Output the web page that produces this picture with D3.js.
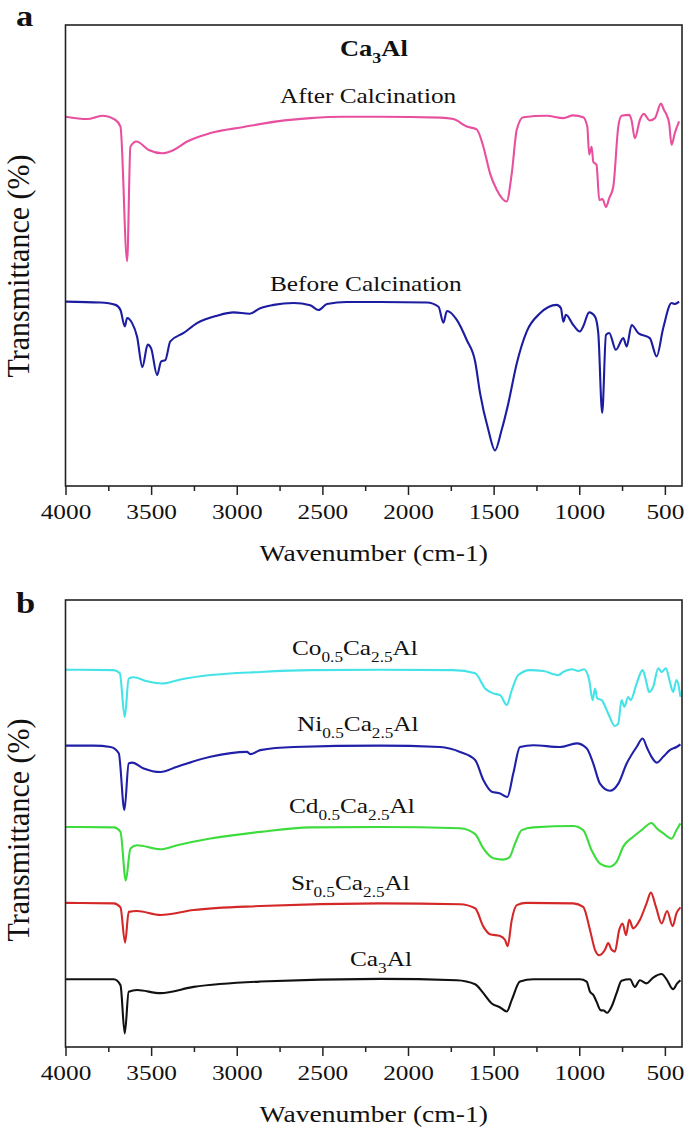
<!DOCTYPE html>
<html>
<head>
<meta charset="utf-8">
<script src="https://cdn.jsdelivr.net/npm/d3@7"></script>
<style>
  html, body { margin: 0; padding: 0; background: #fff; }
  svg { display: block; }
  text { font-family: "Liberation Serif", "Times New Roman", serif; fill: #111; }
</style>
</head>
<body>
<svg id="chart" width="685" height="1130"></svg>
<script>
// ---------------- DATA ----------------
// wavenumber ticks
const majorTicks = [4000, 3500, 3000, 2500, 2000, 1500, 1000, 500];
const minorTicks = [3750, 3250, 2750, 2250, 1750, 1250, 750];

// Panel a: Ca3Al before / after calcination  [wavenumber (cm-1), transmittance (a.u.)]
const afterCalcination = [
  [4000,80.8],[3873,80.3],[3786,81.0],[3708,80.1],[3679,78.7],[3640,49.9],[3621,74.4],[3586,75.5],
  [3514,73.7],[3436,73.0],[3368,73.7],[3290,75.5],[3154,77.3],[2960,78.6],[2765,79.8],[2571,80.5],
  [2378,80.8],[2163,80.8],[1812,80.6],[1735,80.3],[1657,78.7],[1599,78.1],[1560,74.4],[1521,68.7],
  [1482,65.2],[1424,62.7],[1394,68.7],[1365,78.0],[1327,80.7],[1190,81.0],[1093,80.5],[1035,81.1],
  [977,80.7],[953,78.7],[942,72.7],[928,74.4],[918,71.2],[899,70.5],[883,63.0],[864,63.2],[844,61.5],
  [825,63.4],[801,65.9],[772,78.7],[753,81.0],[708,81.2],[695,80.1],[675,76.2],[646,80.1],[623,81.4],
  [588,80.0],[558,80.5],[523,83.6],[506,82.3],[490,81.2],[475,79.4],[461,74.8],[442,77.3],[417,79.8]
];
const beforeCalcination = [
  [4000,41.3],[3796,41.1],[3708,40.6],[3679,39.5],[3654,36.0],[3640,37.8],[3611,36.7],[3582,33.8],
  [3551,27.3],[3520,32.1],[3500,31.3],[3465,25.6],[3442,28.5],[3417,28.8],[3388,32.8],[3310,34.6],
  [3232,36.7],[3115,38.3],[3018,39.0],[2925,38.7],[2863,39.9],[2785,40.6],[2668,41.0],[2571,40.5],
  [2522,39.5],[2473,40.8],[2357,41.2],[2279,41.2],[2163,41.2],[1890,41.1],[1822,40.2],[1793,36.8],
  [1773,39.3],[1715,37.4],[1657,33.1],[1608,28.5],[1579,21.7],[1531,13.9],[1492,9.5],[1453,13.9],
  [1414,19.6],[1365,28.1],[1307,34.9],[1229,38.8],[1132,40.6],[1107,39.9],[1093,37.0],[1078,38.5],
  [1035,36.3],[996,34.9],[977,36.0],[942,39.0],[908,38.1],[889,34.6],[866,17.5],[844,34.2],[825,34.6],
  [786,31.0],[743,33.5],[723,31.7],[694,36.3],[656,34.6],[588,33.5],[548,29.6],[510,35.6],[461,41.0],
  [442,40.8],[417,41.3]
];

// Panel b: doped samples (stacked, offset transmittance a.u.)
const co05 = [
  [4000,84.0],[3718,83.9],[3683,83.2],[3654,73.4],[3631,82.0],[3602,82.3],[3523,81.4],[3436,80.9],
  [3329,81.8],[3154,82.8],[2862,83.5],[2571,83.9],[2163,84.0],[1735,83.9],[1608,83.2],[1550,79.8],
  [1502,78.7],[1462,78.3],[1423,76.1],[1394,79.4],[1356,82.8],[1288,83.9],[1210,83.7],[1122,82.8],
  [1093,83.5],[1044,84.1],[1006,83.7],[972,84.1],[942,81.7],[922,77.2],[908,79.8],[895,77.6],
  [869,77.2],[831,74.2],[792,71.4],[772,72.0],[753,77.2],[737,75.7],[714,77.9],[700,77.2],[665,80.9],
  [630,83.9],[611,81.7],[592,79.0],[568,80.2],[539,84.3],[519,83.5],[494,84.3],[471,81.3],[452,79.0],
  [432,81.7],[409,77.9]
];
const ni05 = [
  [4000,67.0],[3835,67.0],[3737,66.7],[3689,65.3],[3656,52.6],[3631,63.0],[3611,63.2],[3543,61.9],
  [3446,61.1],[3348,62.3],[3154,64.5],[2940,65.6],[2921,65.1],[2862,66.0],[2668,66.7],[2163,67.0],
  [1812,66.7],[1696,65.6],[1608,63.8],[1560,59.3],[1511,56.7],[1462,56.3],[1420,55.5],[1385,60.8],
  [1346,66.7],[1268,67.1],[1112,66.7],[1015,67.5],[957,66.4],[918,63.0],[879,58.5],[821,56.9],
  [772,58.5],[723,63.0],[665,66.7],[630,68.6],[603,66.4],[578,64.5],[548,63.2],[510,64.5],[471,66.0],
  [432,66.7],[409,67.3]
];
const cd05 = [
  [4000,48.8],[3718,48.7],[3679,47.7],[3648,36.8],[3621,44.0],[3582,44.7],[3446,43.8],[3348,44.7],
  [3154,46.2],[2862,47.7],[2571,48.7],[2163,48.8],[1696,48.5],[1608,47.2],[1560,44.0],[1502,41.8],
  [1443,41.5],[1408,42.0],[1375,45.1],[1336,48.1],[1268,48.7],[1035,49.0],[977,48.1],[928,43.6],
  [879,40.6],[825,39.9],[782,41.0],[743,44.4],[685,46.6],[636,48.1],[578,49.7],[548,48.5],[510,47.4],
  [461,46.2],[432,48.1],[409,49.6]
];
const sr05 = [
  [4000,31.8],[3718,31.7],[3679,30.8],[3652,22.9],[3631,29.8],[3582,30.0],[3446,29.1],[3252,30.2],
  [2862,31.1],[2163,31.7],[1696,31.5],[1608,30.6],[1560,26.5],[1521,24.8],[1462,24.4],[1433,23.5],
  [1418,22.1],[1394,28.0],[1365,31.3],[1307,31.8],[1035,31.7],[977,30.9],[937,25.7],[908,21.3],
  [883,20.1],[850,21.3],[831,22.8],[811,21.3],[792,20.9],[767,25.7],[747,27.2],[727,24.6],[708,28.0],
  [685,26.1],[646,28.0],[607,31.7],[582,34.1],[552,30.9],[519,27.2],[487,30.0],[455,26.6],[432,29.5],
  [409,30.8]
];
const ca3al = [
  [4000,14.7],[3718,14.7],[3679,13.4],[3654,2.6],[3631,11.9],[3582,12.3],[3446,11.6],[3252,13.0],
  [2862,14.2],[2163,14.8],[1715,14.5],[1608,13.6],[1560,11.6],[1511,9.3],[1462,8.4],[1423,7.5],
  [1394,10.1],[1346,14.2],[1268,14.7],[996,14.7],[957,14.2],[937,11.9],[918,11.2],[899,9.7],
  [875,7.8],[856,7.7],[837,7.2],[811,8.6],[782,11.6],[753,14.4],[704,14.7],[675,13.0],[646,14.5],
  [607,13.8],[568,15.1],[519,15.9],[490,14.7],[452,12.5],[428,13.8],[409,14.5]
];

const seriesA = [
  { name: "After Calcination", values: afterCalcination, color: "#e8509f" },
  { name: "Before Calcination", values: beforeCalcination, color: "#1c1ca0" }
];
const seriesB = [
  { name: "Co", values: co05, color: "#45e3e8" },
  { name: "Ni", values: ni05, color: "#1f1fa8" },
  { name: "Cd", values: cd05, color: "#3ddc3d" },
  { name: "Sr", values: sr05, color: "#d42828" },
  { name: "Ca3Al", values: ca3al, color: "#111111" }
];

// ---------------- LAYOUT ----------------
const svg = d3.select("#chart");
const SX = 1.15; // horizontal stretch of the original figure
const FONT = '"Liberation Serif", "Times New Roman", serif';

// text with optional subscripts: parts = [[string, isSubscript], ...]
function richText(g, x, y, parts, size, weight) {
  const t = g.append("text")
    .attr("transform", `translate(${x},${y}) scale(${SX},1)`)
    .attr("font-size", size)
    .attr("font-weight", weight || "normal");
  let shifted = false;
  parts.forEach(p => {
    const [s, sub] = p;
    const ts = t.append("tspan").text(s);
    if (sub && !shifted) { ts.attr("font-size", size * 0.68).attr("dy", size * 0.3); shifted = true; }
    else if (sub && shifted) { ts.attr("font-size", size * 0.68); }
    else if (!sub && shifted) { ts.attr("dy", -size * 0.3); shifted = false; }
  });
  return t;
}

function drawPanel(cfg) {
  const { left, right, top, bottom, yDomain, series } = cfg;
  const g = svg.append("g");
  const x = d3.scaleLinear().domain([4000, 400]).range([left, right]);
  const y = d3.scaleLinear().domain(yDomain).range([bottom, top]);

  const line = d3.line()
    .x(d => x(d[0]))
    .y(d => y(d[1]))
    .curve(d3.curveMonotoneX);

  const clipId = "clip" + cfg.id;
  svg.append("clipPath").attr("id", clipId)
    .append("rect").attr("x", left).attr("y", top).attr("width", right - left).attr("height", bottom - top);

  g.append("g").attr("clip-path", `url(#${clipId})`)
    .selectAll("path")
    .data(series)
    .join("path")
    .attr("d", d => line(d.values))
    .attr("fill", "none")
    .attr("stroke", d => d.color)
    .attr("stroke-width", 2.1)
    .attr("stroke-linejoin", "round");

  // minor ticks
  const minorAxis = d3.axisBottom(x).tickValues(minorTicks).tickSize(5).tickFormat("");
  g.append("g").attr("transform", `translate(0,${bottom})`).call(minorAxis)
    .call(a => a.select(".domain").remove())
    .call(a => a.selectAll("line").attr("stroke", "#222").attr("stroke-width", 1.5));

  const majorAxis = d3.axisBottom(x).tickValues(majorTicks).tickSize(9).tickPadding(8).tickFormat(d3.format("d"));
  g.append("g").attr("transform", `translate(0,${bottom})`).call(majorAxis)
    .call(a => a.select(".domain").remove())
    .call(a => a.selectAll("line").attr("stroke", "#222").attr("stroke-width", 1.5))
    .call(a => a.selectAll("text")
      .attr("font-family", FONT).attr("font-size", 22).attr("fill", "#111")
      .attr("transform", `scale(${SX},1)`));

  // frame
  g.append("rect")
    .attr("x", left).attr("y", top)
    .attr("width", right - left).attr("height", bottom - top)
    .attr("fill", "none").attr("stroke", "#222").attr("stroke-width", 1.6);

  // axis titles
  g.append("text")
    .attr("transform", `translate(${(left + right) / 2},${bottom + 75}) scale(${SX},1)`)
    .attr("text-anchor", "middle").attr("font-size", 24)
    .text("Wavenumber (cm-1)");
  g.append("text")
    .attr("transform", `translate(29,${cfg.yTitleCenter}) scale(1.05,1) rotate(-90)`)
    .attr("text-anchor", "middle").attr("font-size", 30)
    .text("Transmittance (%)");

  return g;
}

drawPanel({ id: "a", left: 65.5, right: 682, top: 25, bottom: 486, yDomain: [1.9, 100.4], series: seriesA, yTitleCenter: 266 });
drawPanel({ id: "b", left: 65.5, right: 682, top: 600, bottom: 1047, yDomain: [-0.45, 99.6], series: seriesB, yTitleCenter: 830 });

// panel letters
richText(svg, 16, 26, [["a", false]], 30, "bold");
richText(svg, 16, 613, [["b", false]], 30, "bold");

// panel a labels
richText(svg, 340, 56, [["Ca", false], ["3", true], ["Al", false]], 23, "bold");
richText(svg, 280, 103, [["After Calcination", false]], 22);
richText(svg, 270, 291, [["Before Calcination", false]], 22);

// panel b labels
richText(svg, 292, 655, [["Co", false], ["0.5", true], ["Ca", false], ["2.5", true], ["Al", false]], 22);
richText(svg, 297, 731, [["Ni", false], ["0.5", true], ["Ca", false], ["2.5", true], ["Al", false]], 22);
richText(svg, 289, 813, [["Cd", false], ["0.5", true], ["Ca", false], ["2.5", true], ["Al", false]], 22);
richText(svg, 291, 890, [["Sr", false], ["0.5", true], ["Ca", false], ["2.5", true], ["Al", false]], 22);
richText(svg, 350, 966, [["Ca", false], ["3", true], ["Al", false]], 22);
</script>
</body>
</html>
